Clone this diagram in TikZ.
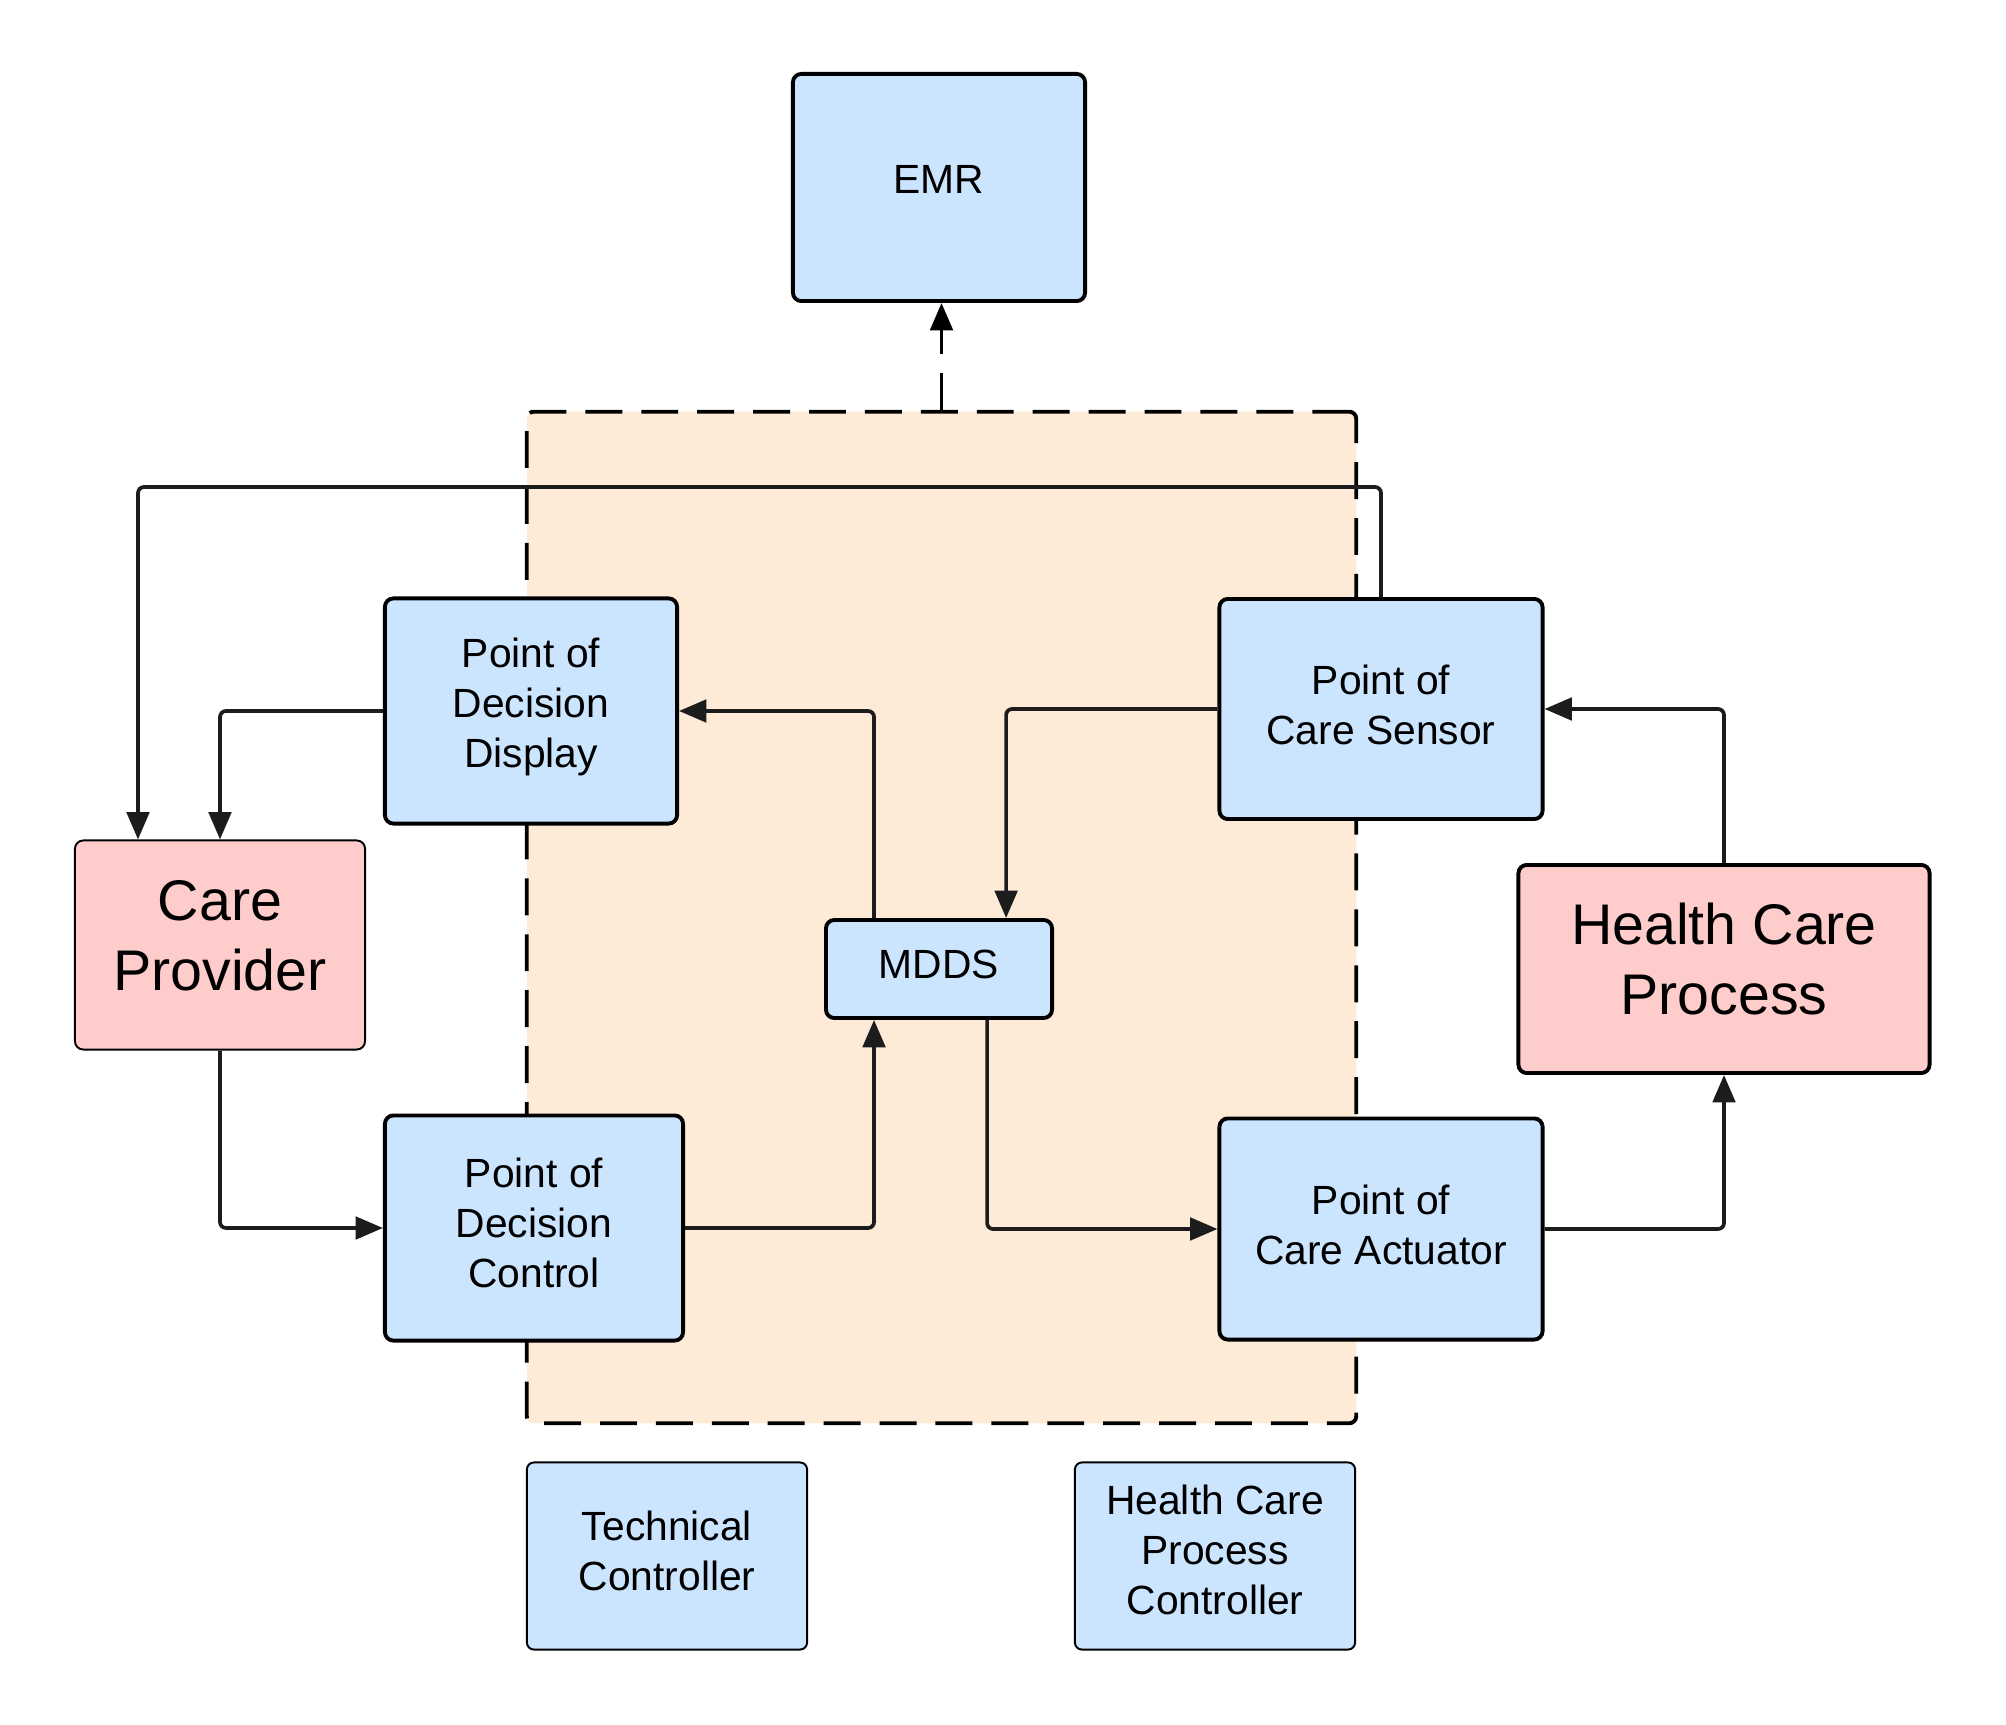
\documentclass[tikz,border=0pt]{standalone}
\usepackage{fontspec}
\setmainfont{Liberation Sans}
\usetikzlibrary{arrows.meta}
\definecolor{boxblue}{HTML}{CCE5FF}
\definecolor{boxpink}{HTML}{FFCCCC}
\definecolor{zonefill}{HTML}{FDEBD8}
\definecolor{inkline}{HTML}{1C1C1C}
\begin{document}
\begin{tikzpicture}[
    x=0.01cm, y=-0.01cm,
    >={Triangle[length=7.8pt, width=6.4pt]},
    font=\fontsize{11.6}{14.2}\selectfont,
    blockbox/.style={draw=black, line width=1.1pt, rounded corners=2.4pt,
                     fill=boxblue, align=center, inner sep=0pt},
    actorbox/.style={draw=black, rounded corners=2.4pt, fill=boxpink,
                     align=center, inner sep=0pt,
                     font=\fontsize{16.3}{19.8}\selectfont},
    legendbox/.style={draw=black, line width=0.55pt, rounded corners=2pt,
                      fill=boxblue, align=center, inner sep=0pt,
                      minimum width=2.8cm, minimum height=1.87cm},
    zonebox/.style={draw=black, line width=1.1pt, fill=zonefill,
                    dash pattern=on 10.5pt off 5.4pt, rounded corners=2pt,
                    inner sep=0pt, minimum width=8.29cm, minimum height=10.11cm},
    link/.style={->, draw=inkline, line width=1.05pt, rounded corners=1.7pt},
    dashlink/.style={->, draw=black, line width=1.1pt,
                     dash pattern=on 10.5pt off 5.4pt},
]
\useasboundingbox (0,0) rectangle (2006,1725);

% Technical controller zone
\node[zonebox] (zone) at (941.5,917.5) {};

% EMR on top
\node[blockbox, minimum width=2.92cm, minimum height=2.27cm] (emr) at (939,187.5) {EMR\\[-9.6pt]};

% Left column
\node[actorbox, line width=0.55pt, minimum width=2.9cm, minimum height=2.09cm] (cp) at (220,945) {Care\\Provider\\[-14.3pt]};
\node[blockbox, minimum width=2.92cm, minimum height=2.25cm] (pdd) at (531,711) {Point of\\Decision\\Display\\[-9.5pt]};
\node[blockbox, minimum width=2.98cm, minimum height=2.25cm] (pdc) at (534,1228) {Point of\\Decision\\Control\\[-11.3pt]};

% Middle
\node[blockbox, minimum width=2.26cm, minimum height=0.98cm] (mdds) at (939,969) {MDDS\\[-11.3pt]};

% Right column
\node[blockbox, minimum width=3.23cm, minimum height=2.2cm] (pcs) at (1381,709) {Point of\\Care Sensor\\[-11.9pt]};
\node[blockbox, minimum width=3.23cm, minimum height=2.21cm] (pca) at (1381,1229) {Point of\\Care Actuator\\[-11.9pt]};
\node[actorbox, line width=1.1pt, minimum width=4.11cm, minimum height=2.08cm] (hcp) at (1724,969) {Health Care\\Process\\[-14.1pt]};

% Legend boxes
\node[legendbox] (tc) at (667,1556) {Technical\\Controller\\[-11.3pt]};
\node[legendbox] (hcpc) at (1215,1556) {Health Care\\Process\\Controller\\[-10.6pt]};

% Zone to EMR
\draw[dashlink] (zone.north) -- (zone.north |- emr.south);

% Feedback loop over the top
\coordinate (loop) at (138,487);
\draw[link] (pcs.north) |- (loop) -- (loop |- cp.north);

% Display / control side
\draw[link] (pdd.west) -| (cp.north);
\draw[link] (cp.south) |- (pdc.west);
\draw[link] ([xshift=0.5cm]mdds.north west) |- (pdd.east);
\draw[link] (pdc.east) -| ([xshift=0.5cm]mdds.south west);

% Sensor / actuator side
\draw[link] (pcs.west) -| ([xshift=1.82cm]mdds.north west);
\draw[link] ([xshift=1.63cm]mdds.south west) |- (pca.west);
\draw[link] (pca.east) -| (hcp.south);
\draw[link] (hcp.north) |- (pcs.east);
\end{tikzpicture}
\end{document}
